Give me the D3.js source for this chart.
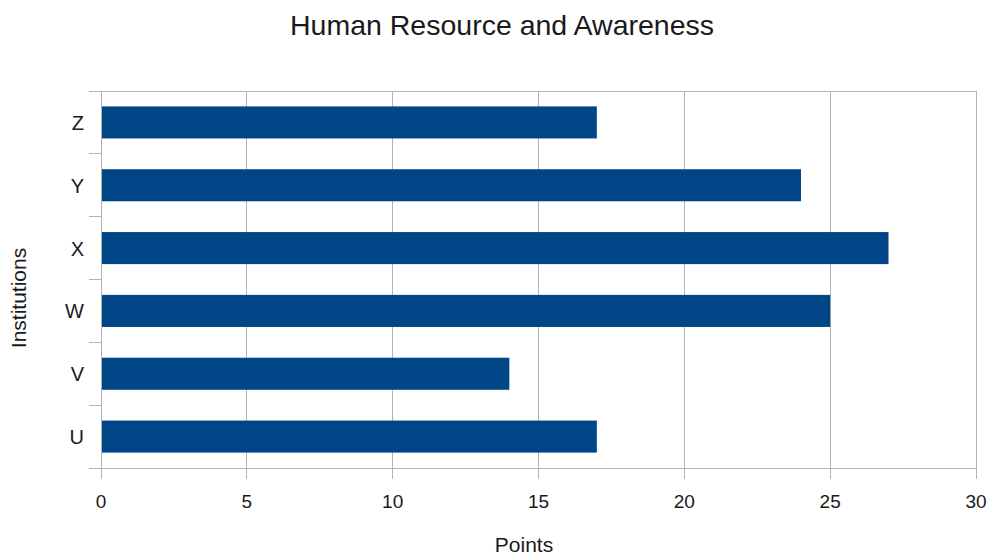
<!DOCTYPE html>
<html><head><meta charset="utf-8">
<script src="https://cdn.jsdelivr.net/npm/d3@7"></script>
<style>body{margin:0;background:#fff}svg{display:block}text{font-family:"Liberation Sans",Arial,sans-serif;fill:#1a1a1a}</style>
</head><body>
<script>
const categories = ["U","V","W","X","Y","Z"];
const values = [17,14,25,27,24,17];
const xTicks = [0,5,10,15,20,25,30];
const title = "Human Resource and Awareness";
const xTitle = "Points";
const yTitle = "Institutions";

const W=992,H=557;
const m={l:101,r:16,t:91,b:89};
const svg=d3.select("body").append("svg").attr("width",W).attr("height",H);
const x=d3.scaleLinear().domain([0,30]).range([m.l,W-m.r]);
const y=d3.scaleBand().domain(categories.slice().reverse()).range([m.t,H-m.b]).paddingInner(0.49).paddingOuter(0.245);
const grid="#b3b3b3";
const y0=m.t, y1=H-m.b;
// vertical gridlines + ticks
svg.append("g").selectAll("line").data(xTicks).join("line")
 .attr("x1",d=>x(d)).attr("x2",d=>x(d)).attr("y1",y0).attr("y2",y1+11)
 .attr("stroke",grid).attr("stroke-width",1).attr("shape-rendering","crispEdges");
// horizontal boundary lines / category ticks
const step=(y1-y0)/categories.length;
const bounds=d3.range(categories.length+1).map(i=>y0+i*step);
svg.append("g").selectAll("line").data(bounds).join("line")
 .attr("x1",m.l-12).attr("x2",(d,i)=>(i===0||i===categories.length)?x(30):m.l)
 .attr("y1",d=>d).attr("y2",d=>d).attr("stroke",grid).attr("shape-rendering","crispEdges");
// bars
svg.append("g").selectAll("rect").data(categories).join("rect")
 .attr("x",x(0)+1).attr("y",d=>y(d)).attr("height",y.bandwidth())
 .attr("width",(d,i)=>x(values[i])-x(0)-1).attr("fill","#004586");
// x tick labels
svg.append("g").selectAll("text").data(xTicks).join("text")
 .attr("x",d=>x(d)).attr("y",508).attr("text-anchor","middle").attr("font-size",19).text(d=>d);
// y labels
svg.append("g").selectAll("text").data(categories).join("text")
 .attr("x",84).attr("y",d=>y(d)+y.bandwidth()/2+7.5).attr("text-anchor","end").attr("font-size",20).text(d=>d);
svg.append("text").attr("x",502).attr("y",35).attr("text-anchor","middle").attr("font-size",28.5).text(title);
svg.append("text").attr("x",524).attr("y",552).attr("text-anchor","middle").attr("font-size",21).text(xTitle);
svg.append("text").attr("transform","translate(26,298) rotate(-90)").attr("text-anchor","middle").attr("font-size",21).text(yTitle);
</script>
</body></html>
